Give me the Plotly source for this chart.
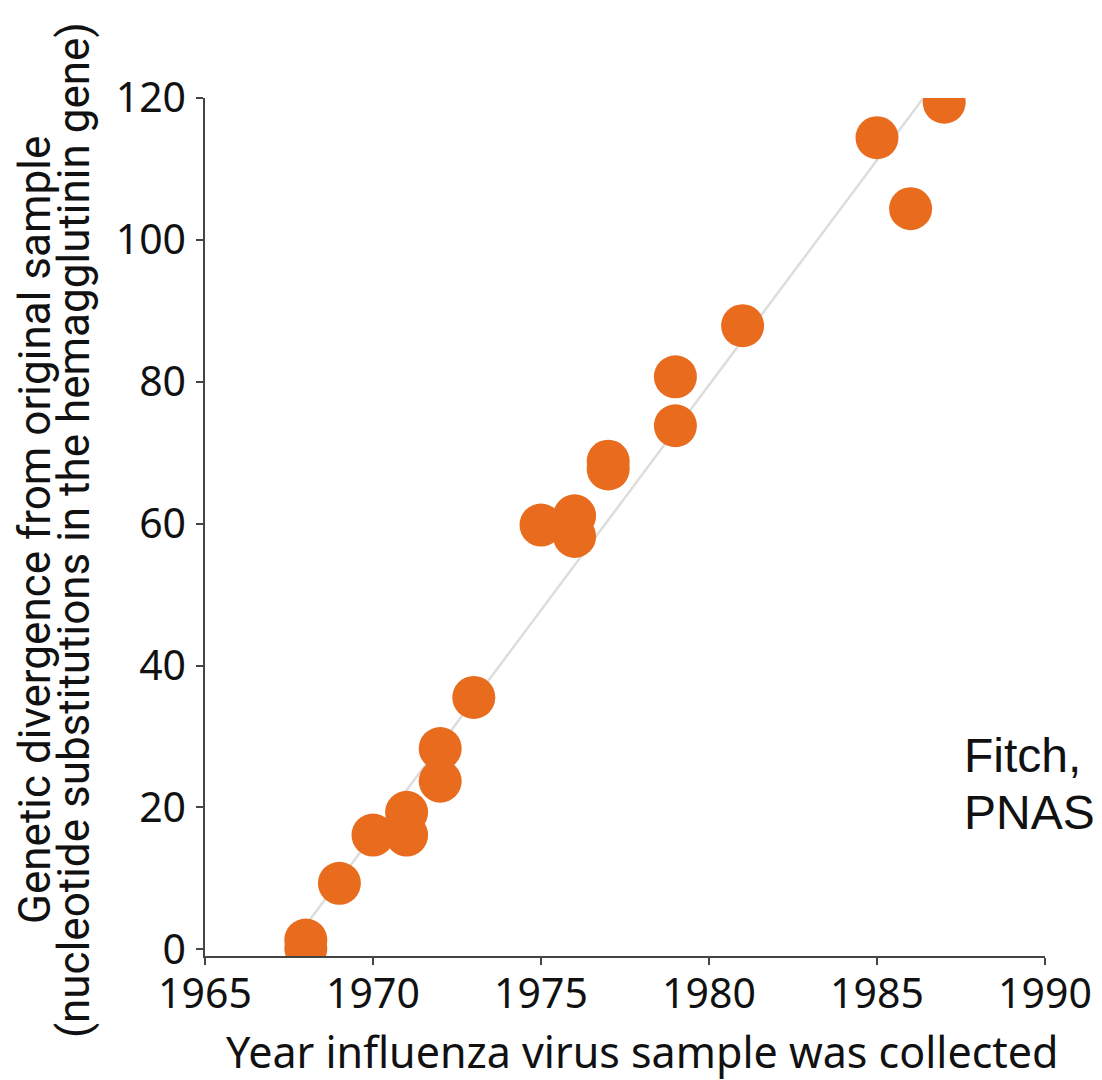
import plotly.graph_objects as go

years = [1968, 1968, 1969, 1970, 1971, 1971, 1972, 1972, 1973, 1975, 1976, 1976,
         1977, 1977, 1979, 1979, 1981, 1985, 1986, 1987]
divergence = [0.1, 1.3, 9.3, 16.1, 16.1, 19.3, 23.7, 28.3, 35.5, 59.8, 61.1, 58.2,
              68.8, 67.7, 80.7, 73.8, 87.9, 114.4, 104.4, 119.4]

fit_x = [1968, 1986.6]
fit_y = [3.4, 121.4]

x_ticks = [1965, 1970, 1975, 1980, 1985, 1990]
y_ticks = [0, 20, 40, 60, 80, 100, 120]

x_title = "Year influenza virus sample was collected"
y_title_1 = "Genetic divergence from original sample"
y_title_2 = "(nucleotide substitutions in the hemagglutinin gene)"
source_1 = "Fitch, et al."
source_2 = "PNAS"

ORANGE = "#E96B1E"
TEXT = "#111111"
TICK_FONT = dict(family="Noto Sans, Open Sans, sans-serif", size=41, color=TEXT)
YT_FONT = dict(family="Roboto, Liberation Sans, sans-serif", size=44, color=TEXT)
SRC_FONT = dict(family="Liberation Sans, Arial, sans-serif", size=48, color=TEXT)

# page has an 8px body margin; plot area in page pixels: x 205..1045, y 98..956
OFF = 8
L, R, T, B = 205 - OFF, 1102 - (1045 - OFF), 98 - OFF, 1080 - (956 - OFF)
PW, PH = 1045 - 205, 956 - 98


def px(xp):  # page x -> paper x
    return (xp - 205) / PW


def py(yp):  # page y -> paper y
    return (956 - yp) / PH


fig = go.Figure()
fig.add_trace(go.Scatter(x=fit_x, y=fit_y, mode="lines",
                         line=dict(color="#DDDDDD", width=2.5),
                         hoverinfo="skip", showlegend=False))
fig.add_trace(go.Scatter(x=years, y=divergence, mode="markers",
                         marker=dict(color=ORANGE, size=43, line=dict(width=0)),
                         showlegend=False))

fig.update_layout(
    width=1102, height=1080,
    margin=dict(l=L, r=R, t=T, b=B, autoexpand=False),
    paper_bgcolor="white", plot_bgcolor="white",
    font=TICK_FONT,
)
fig.update_xaxes(
    range=[1965, 1990], tickvals=x_ticks, ticktext=[str(v) for v in x_ticks],
    showgrid=False, zeroline=False, showline=True, linecolor="#444444", linewidth=1.5,
    ticks="outside", ticklen=7, tickwidth=1.5, tickcolor="#444444",
    tickfont=TICK_FONT, ticklabelstandoff=-6,
)
fig.update_yaxes(
    range=[-0.95, 120], tickvals=y_ticks, ticktext=[str(v) for v in y_ticks],
    showgrid=False, zeroline=False, showline=True, linecolor="#444444", linewidth=1.5,
    ticks="outside", ticklen=7, tickwidth=1.5, tickcolor="#444444",
    tickfont=TICK_FONT, ticklabelstandoff=2,
)

common = dict(xref="paper", yref="paper", showarrow=False)
fig.add_annotation(text=x_title, x=px(642), y=py(1051), xanchor="center", yanchor="middle",
                   font=dict(family="Noto Sans, Open Sans, sans-serif", size=43, color=TEXT), **common)
fig.add_annotation(text=y_title_1, x=px(35), y=py(530), xanchor="center", yanchor="middle",
                   textangle=-90, font=YT_FONT, **common)
fig.add_annotation(text=y_title_2, x=px(74), y=py(530), xanchor="center", yanchor="middle",
                   textangle=-90, font=YT_FONT, **common)
fig.add_annotation(text=source_1, x=px(962), y=py(755), xanchor="left", yanchor="middle",
                   align="left", font=SRC_FONT, **common)
fig.add_annotation(text=source_2, x=px(962), y=py(812), xanchor="left", yanchor="middle",
                   align="left", font=SRC_FONT, **common)

fig.write_html("out.html")
